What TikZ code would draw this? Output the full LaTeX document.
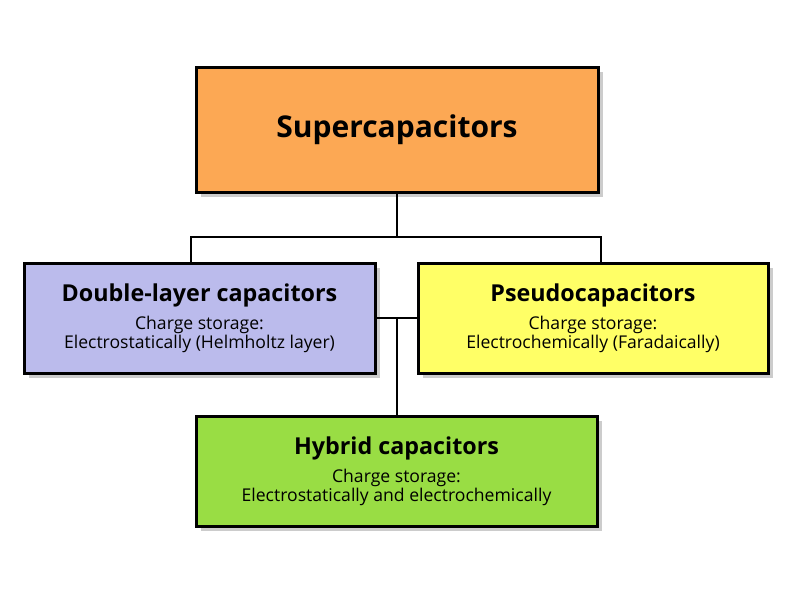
\documentclass[tikz,border=0pt]{standalone}
\usepackage{fontspec}
\setmainfont{Open Sans}
\usetikzlibrary{shadows}

\definecolor{superorange}{HTML}{FCA854}
\definecolor{layerblue}{HTML}{BBBBEC}
\definecolor{pseudoyellow}{HTML}{FFFF66}
\definecolor{hybridgreen}{HTML}{99DD44}

\newcommand{\boxhead}[1]{{\fontsize{23.3}{26}\selectfont\bfseries #1}}
\newcommand{\boxbody}{\fontsize{17.6}{20.5}\selectfont}

\begin{document}
\begin{tikzpicture}[x=1pt, y=-1pt,
  every node/.style = {shape=rectangle, draw, line width=3pt,
    align=center, inner sep=0pt,
    drop shadow={shadow xshift=4.5pt, shadow yshift=-4.5pt, fill=black!40}},
  link/.style = {draw, line width=2pt}]
  \useasboundingbox (0,0) rectangle (800,600);
  \node[fill=superorange, minimum width=402pt, minimum height=125pt] (super) at (397,129.5)
    {\fontsize{30}{34}\selectfont\bfseries Supercapacitors};
  \node[fill=layerblue, minimum width=351pt, minimum height=110pt] (double) at (199.5,318)
    {\boxhead{Double-layer capacitors}\\[8pt]
     \boxbody Charge storage:\\ \boxbody Electrostatically (Helmholtz layer)};
  \node[fill=pseudoyellow, minimum width=350pt, minimum height=110pt] (pseudo) at (593,318)
    {\boxhead{Pseudocapacitors}\\[8pt]
     \boxbody Charge storage:\\ \boxbody Electrochemically (Faradaically)};
  \node[fill=hybridgreen, minimum width=401pt, minimum height=110pt] (hybrid) at (396.5,471)
    {\boxhead{Hybrid capacitors}\\[8pt]
     \boxbody Charge storage:\\ \boxbody Electrostatically and electrochemically};
  % connectors
  \coordinate (fork) at (397,237);
  \draw[link] (double.north -| 191,0) |- (fork) -| (pseudo.north -| 601,0);
  \draw[link] (super.south) -- (fork);
  \draw[link] (double.east) -- (pseudo.west);
  \draw[link] (double.east -| hybrid.north) -- (hybrid.north);
\end{tikzpicture}
\end{document}
